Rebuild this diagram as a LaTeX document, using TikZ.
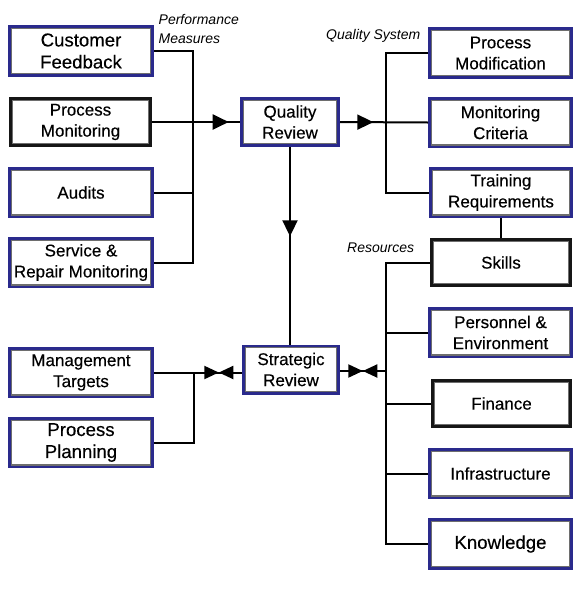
\documentclass[tikz,border=0pt]{standalone}
\usepackage{fontspec}
\setmainfont{Liberation Sans}
\newfontfamily\boxfont{Liberation Sans}[FakeBold=0.35]
\usetikzlibrary{arrows.meta,decorations.markings}
\definecolor{bluebox}{RGB}{42,42,140}
\definecolor{darkbox}{RGB}{22,22,22}
\definecolor{innergray}{RGB}{110,110,110}
\tikzset{
  bx/.style={rectangle, draw=#1, line width=2.6pt, fill=white, align=center,
    inner sep=0pt, minimum width=143.4pt, minimum height=48.6pt,
    font=\boxfont\fontsize{17}{21}\selectfont,
    path picture={\draw[innergray, line width=5pt]
      (path picture bounding box.north west) rectangle (path picture bounding box.south east);}},
  bx/.default=bluebox,
  bigtext/.style={font=\boxfont\fontsize{18.6}{22}\selectfont},
  midbox/.style={minimum width=97.4pt},
  lbl/.style={font=\fontsize{14}{19}\selectfont\itshape, align=left, inner sep=0pt, anchor=west},
  conn/.style={line width=2pt, black},
  tipat/.style={postaction={decorate, decoration={markings,
      mark=at position #1 with {\arrow{Triangle[length=16pt,width=15pt]}}}}},
  bowtie/.style={postaction={decorate, decoration={markings,
      mark=at position #1 with {\arrow{Triangle[length=14.5pt,width=13pt]}},
      mark=at position #1 with {\arrowreversed{Triangle[length=14.5pt,width=13pt]}}}}}
}
\begin{document}
\begin{tikzpicture}[x=1pt,y=-1pt]
\useasboundingbox[fill=white] (0,0) rectangle (579,600);

% left column
\node[bx, bigtext] (cf) at (81,51) {Customer\\Feedback};
\node[bx=darkbox, minimum width=140.4pt, minimum height=47.4pt] (pm) at (80.5,122) {Process\\Monitoring};
\node[bx] (au) at (81,192.5) {Audits};
\node[bx] (sr) at (81,262.5) {Service \&\\Repair Monitoring};
\node[bx] (mt) at (81,372.5) {Management\\Targets};
\node[bx, bigtext] (pp) at (81,442.5) {Process\\Planning};

% middle
\node[bx, midbox, minimum height=47.4pt] (qr) at (290,122) {Quality\\Review};
\node[bx, midbox, minimum width=95.4pt, minimum height=47.4pt] (sg) at (291,369.5) {Strategic\\Review};

% right column
\node[bx, minimum width=142.4pt] (pmod) at (500.5,53) {Process\\Modification};
\node[bx, minimum width=142.4pt] (mc) at (500.5,122.5) {Monitoring\\Criteria};
\node[bx, minimum width=141.4pt] (tr) at (501,192.5) {Training\\Requirements};
\node[bx=darkbox, minimum width=139.4pt, minimum height=46.4pt] (sk) at (501,262.5) {Skills};
\node[bx, minimum width=142.4pt] (pe) at (500.5,332.5) {Personnel \&\\Environment};
\node[bx=darkbox, minimum width=138.4pt, minimum height=46.4pt] (fi) at (501.5,403.5) {Finance};
\node[bx, minimum width=142.4pt] (inf) at (500.5,473.5) {Infrastructure};
\node[bx, bigtext, minimum width=142.4pt, minimum height=49.4pt] (kn) at (500.5,544) {Knowledge};

% labels
\node[lbl] (lpm) at (158.5,28.5) {Performance\\Measures};
\node[lbl] (lqs) at (326,36) {Quality System};
\node[lbl] (lrs) at (347,248) {Resources};

% connectors: performance measures
\coordinate (bl) at (193,262.5);
\draw[conn] (cf.east) -| (bl) -- (sr.east);
\draw[conn] (au.east) -- (au.east -| bl);
\draw[conn, tipat=-11.3pt] (pm.east) -- (qr.west);

% quality system
\coordinate (br) at (386,192.5);
\draw[conn] (pmod.west) -| (br) -- (tr.west);
\draw[conn, tipat=33.3pt] (qr.east) -- (mc.west);
\draw[conn] (tr.south) -- (sk.north);

% quality review -> strategic review
\draw[conn, tipat=89.3pt] (qr.south) -- (qr.south |- sg.north);

% resources
\coordinate (brr) at (386,544);
\draw[conn] (sk.west) -| (brr) -- (kn.west);
\draw[conn] (pe.west) -- (pe.west -| brr);
\draw[conn] (fi.west) -- (fi.west -| brr);
\draw[conn] (inf.west) -- (inf.west -| brr);
\draw[conn, bowtie=22.8pt] (sg.east |- 0,371) -- (brr |- 0,371);

% management targets / process planning
\coordinate (bl2) at (194,442.5);
\draw[conn, bowtie=64.8pt] (mt.east) -- (mt.east -| sg.west);
\draw[conn] (mt.east -| bl2) -- (bl2) -- (pp.east);
\end{tikzpicture}
\end{document}
